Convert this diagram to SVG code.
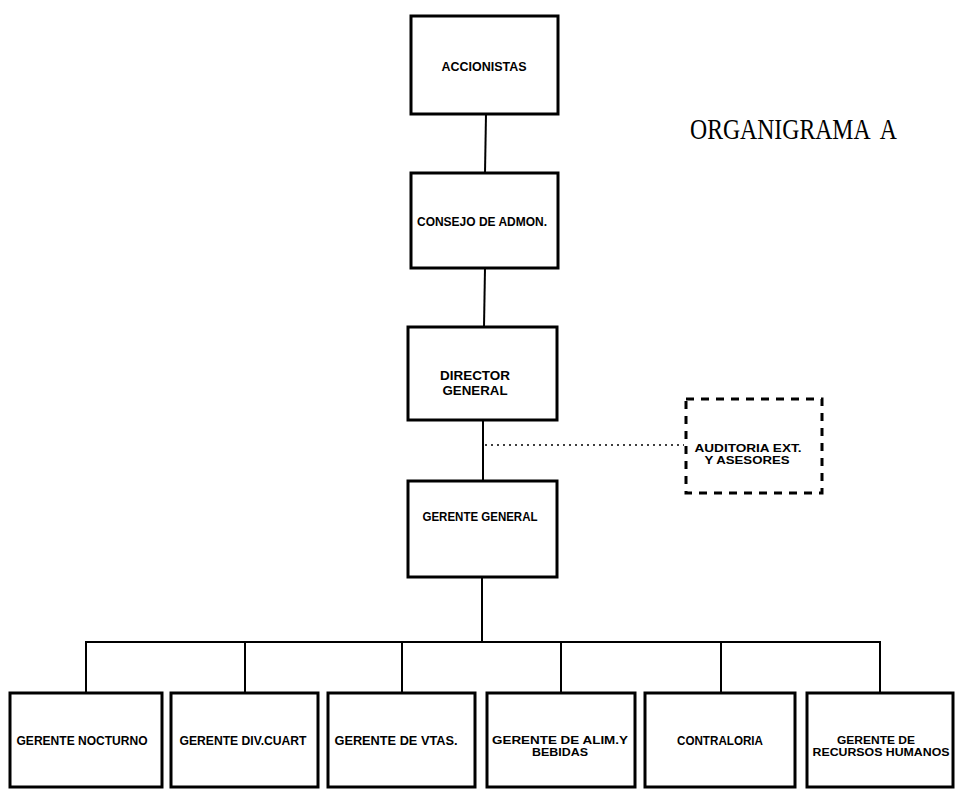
<svg xmlns="http://www.w3.org/2000/svg" width="955" height="790" viewBox="0 0 955 790">
<style>
.box{fill:#fff;stroke:#000;stroke-width:3}
.dbox{fill:#fff;stroke:#000;stroke-width:3;stroke-dasharray:8 7}
.ln{stroke:#000;stroke-width:2;fill:none}
.dot{stroke:#000;stroke-width:1.6;fill:none;stroke-dasharray:2 4}
.t{font-family:"Liberation Sans",Arial,sans-serif;font-size:12px;font-weight:bold;fill:#000;text-anchor:middle}
.s{font-size:10px}
.title{font-family:"Liberation Serif","Times New Roman",serif;font-size:29px;fill:#000;white-space:pre}
</style>
<rect width="955" height="790" fill="#fff"/>
<g id="title"><text class="title" x="690" y="139" textLength="207" lengthAdjust="spacingAndGlyphs">ORGANIGRAMA  A</text></g>
<g id="connectors">
<line class="ln" x1="486" y1="114" x2="485" y2="173"/>
<line class="ln" x1="485" y1="268" x2="484" y2="327"/>
<line class="ln" x1="483" y1="420" x2="483" y2="481"/>
<line class="ln" x1="482" y1="577" x2="482" y2="642"/>
<polyline class="ln" points="86,693 86,642 880,642 880,693"/>
<line class="ln" x1="245" y1="642" x2="245" y2="693"/>
<line class="ln" x1="402" y1="642" x2="402" y2="693"/>
<line class="ln" x1="561" y1="642" x2="561" y2="693"/>
<line class="ln" x1="721" y1="642" x2="721" y2="693"/>
<line class="dot" x1="485" y1="445" x2="684" y2="445"/>
</g>
<g id="accionistas"><rect class="box" x="411" y="16" width="147" height="98"/><text class="t" x="484" y="71" textLength="85" lengthAdjust="spacingAndGlyphs">ACCIONISTAS</text></g>
<g id="consejo"><rect class="box" x="411" y="173" width="147" height="95"/><text class="t" x="482" y="226" textLength="130" lengthAdjust="spacingAndGlyphs">CONSEJO DE ADMON.</text></g>
<g id="director"><rect class="box" x="408" y="327" width="149" height="93"/><text class="t" x="475" y="380" textLength="70" lengthAdjust="spacingAndGlyphs">DIRECTOR</text><text class="t" x="475" y="395" textLength="65" lengthAdjust="spacingAndGlyphs">GENERAL</text></g>
<g id="auditoria"><rect class="dbox" x="686" y="399" width="136" height="94"/><text class="t s" x="748" y="452" textLength="107" lengthAdjust="spacingAndGlyphs">AUDITORIA EXT.</text><text class="t s" x="747" y="464" textLength="85" lengthAdjust="spacingAndGlyphs">Y ASESORES</text></g>
<g id="gerente-general"><rect class="box" x="408" y="481" width="149" height="96"/><text class="t" x="480" y="521" textLength="115" lengthAdjust="spacingAndGlyphs">GERENTE GENERAL</text></g>
<g id="nocturno"><rect class="box" x="10" y="693" width="152" height="94"/><text class="t" x="82" y="745" textLength="131" lengthAdjust="spacingAndGlyphs">GERENTE NOCTURNO</text></g>
<g id="div-cuart"><rect class="box" x="171" y="693" width="147" height="94"/><text class="t" x="243" y="745" textLength="127" lengthAdjust="spacingAndGlyphs">GERENTE DIV.CUART</text></g>
<g id="vtas"><rect class="box" x="328" y="693" width="147" height="94"/><text class="t" x="396" y="745" textLength="123" lengthAdjust="spacingAndGlyphs">GERENTE DE VTAS.</text></g>
<g id="alim"><rect class="box" x="487" y="693" width="148" height="94"/><text class="t s" x="560" y="744" textLength="136" lengthAdjust="spacingAndGlyphs">GERENTE DE ALIM.Y</text><text class="t s" x="560" y="756" textLength="56" lengthAdjust="spacingAndGlyphs">BEBIDAS</text></g>
<g id="contraloria"><rect class="box" x="645" y="693" width="150" height="94"/><text class="t" x="720" y="745" textLength="86" lengthAdjust="spacingAndGlyphs">CONTRALORIA</text></g>
<g id="rrhh"><rect class="box" x="807" y="693" width="146" height="94"/><text class="t s" x="876" y="744" textLength="78" lengthAdjust="spacingAndGlyphs">GERENTE DE</text><text class="t s" x="881" y="756" textLength="137" lengthAdjust="spacingAndGlyphs">RECURSOS HUMANOS</text></g>
</svg>
